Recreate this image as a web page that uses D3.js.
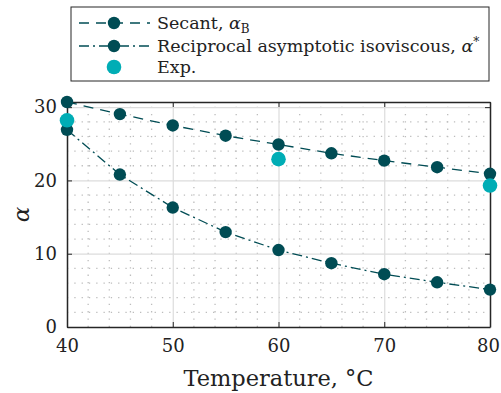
<!DOCTYPE html>
<html>
<head>
<meta charset="utf-8">
<script src="https://cdn.jsdelivr.net/npm/d3@7"></script>
<style>
  body { margin: 0; background: #fff; }
  svg text { fill: #222; }
</style>
</head>
<body>
<div id="chart"></div>
<script>
// temperatures, °C
const temps = [40, 45, 50, 55, 60, 65, 70, 75, 80];
const secant = [30.7, 29.05, 27.5, 26.1, 24.9, 23.7, 22.7, 21.8, 20.9];
const reciprocal = [26.9, 20.8, 16.3, 12.95, 10.5, 8.7, 7.2, 6.1, 5.1];
const expTemps = [40, 60, 80];
const expValues = [28.2, 22.9, 19.3];
const xTicks = [40, 50, 60, 70, 80];
const yTicks = [0, 10, 20, 30];

const fullWidth = 501, fullHeight = 393;
const margin = { top: 102, right: 11, bottom: 66, left: 67 };
const width = fullWidth - margin.left - margin.right;
const height = fullHeight - margin.top - margin.bottom;

const dark = "#004c54", cyan = "#00adb5";
const serif = "DejaVu Serif";

const root = d3.select("#chart").append("svg")
    .attr("width", fullWidth)
    .attr("height", fullHeight)
    .attr("font-family", serif);

const svg = root.append("g")
    .attr("transform", `translate(${margin.left},${margin.top})`);

let x = d3.scaleLinear().domain([40, 80]).range([0, width]);
let y = d3.scaleLinear().domain([0, 30.7]).range([height, 0]);

// minor dotted grid every 2 units
const minorX = d3.range(42, 80, 2).filter(v => v % 10 !== 0);
const minorY = d3.range(2, 30.7, 2).filter(v => v % 10 !== 0);

svg.append("g").selectAll("line")
    .data(minorX).enter().append("line")
    .attr("x1", d => x(d)).attr("x2", d => x(d))
    .attr("y1", height).attr("y2", 0)
    .attr("stroke", "#bdbdbd").attr("stroke-width", 1.3)
    .attr("stroke-dasharray", "1.3,6");

svg.append("g").selectAll("line")
    .data(minorY).enter().append("line")
    .attr("x1", 0).attr("x2", width)
    .attr("y1", d => y(d)).attr("y2", d => y(d))
    .attr("stroke", "#bdbdbd").attr("stroke-width", 1.3)
    .attr("stroke-dasharray", "1.3,6");

// major grid
svg.append("g")
    .attr("transform", `translate(0,${height})`)
    .call(d3.axisBottom(x).tickValues(xTicks).tickSize(-height).tickFormat(""))
    .call(g => g.select(".domain").remove())
    .selectAll("line").attr("stroke", "#dcdcdc").attr("stroke-width", 1.2);

svg.append("g")
    .call(d3.axisLeft(y).tickValues(yTicks).tickSize(-width).tickFormat(""))
    .call(g => g.select(".domain").remove())
    .selectAll("line").attr("stroke", "#dcdcdc").attr("stroke-width", 1.2);

// axes with inward ticks
function styleAxis(g) {
    g.attr("font-family", serif);
    g.select(".domain").attr("stroke", "#262626").attr("stroke-width", 1.5);
    g.selectAll(".tick line").attr("stroke", "#262626").attr("stroke-width", 1);
    g.selectAll("text").attr("font-size", 18).attr("fill", "#222");
}

svg.append("g")
    .attr("transform", `translate(0,${height})`)
    .call(d3.axisBottom(x).tickValues(xTicks).tickSize(-5).tickPadding(12).tickSizeOuter(0))
    .call(styleAxis)
    .selectAll("text").filter(d => d === 80).attr("dx", -2);

svg.append("g")
    .call(d3.axisLeft(y).tickValues(yTicks).tickSize(-5).tickPadding(10).tickSizeOuter(0))
    .call(styleAxis);

svg.append("g")
    .call(d3.axisTop(x).tickValues(xTicks).tickSize(-5).tickFormat("").tickSizeOuter(0))
    .call(styleAxis);

svg.append("g")
    .attr("transform", `translate(${width},0)`)
    .call(d3.axisRight(y).tickValues(yTicks).tickSize(-5).tickFormat("").tickSizeOuter(0))
    .call(styleAxis);

// series lines
const line = d3.line().x(d => x(d[0])).y(d => y(d[1]));

svg.append("path")
    .datum(temps.map((t, i) => [t, secant[i]]))
    .attr("d", line)
    .attr("fill", "none").attr("stroke", dark).attr("stroke-width", 1.3)
    .attr("stroke-dasharray", "10,7");

svg.append("path")
    .datum(temps.map((t, i) => [t, reciprocal[i]]))
    .attr("d", line)
    .attr("fill", "none").attr("stroke", dark).attr("stroke-width", 1.3)
    .attr("stroke-dasharray", "10,4,2,4");

svg.append("g").selectAll("circle")
    .data(temps.map((t, i) => [t, secant[i]]))
    .enter().append("circle")
    .attr("cx", d => x(d[0])).attr("cy", d => y(d[1]))
    .attr("r", 6.2).attr("fill", dark);

svg.append("g").selectAll("circle")
    .data(temps.map((t, i) => [t, reciprocal[i]]))
    .enter().append("circle")
    .attr("cx", d => x(d[0])).attr("cy", d => y(d[1]))
    .attr("r", 6.2).attr("fill", dark);

svg.append("g").selectAll("circle")
    .data(expTemps.map((t, i) => [t, expValues[i]]))
    .enter().append("circle")
    .attr("cx", d => x(d[0])).attr("cy", d => y(d[1]))
    .attr("r", 7.3).attr("fill", cyan);

// axis labels
root.append("text")
    .attr("x", margin.left + width / 2)
    .attr("y", 386)
    .attr("text-anchor", "middle")
    .attr("font-size", 22.5)
    .text("Temperature, °C");

root.append("text")
    .attr("transform", `translate(29,${margin.top + height / 2}) rotate(-90)`)
    .attr("text-anchor", "middle")
    .attr("font-size", 23)
    .attr("font-style", "italic")
    .text("α");

// legend
const legend = root.append("g");
legend.append("rect")
    .attr("x", 71).attr("y", 7)
    .attr("width", 418).attr("height", 74)
    .attr("fill", "#fff").attr("stroke", "#262626").attr("stroke-width", 1);

const legendRows = [
    { y: 23, dash: "10,7", color: dark, r: 6.2, line: true },
    { y: 46, dash: "10,4,2,4", color: dark, r: 6.2, line: true },
    { y: 67, dash: null, color: cyan, r: 7.3, line: false }
];

legendRows.forEach(d => {
    if (d.line) {
        legend.append("line")
            .attr("x1", 79).attr("x2", 150)
            .attr("y1", d.y).attr("y2", d.y)
            .attr("stroke", d.color).attr("stroke-width", 1.3)
            .attr("stroke-dasharray", d.dash);
    }
    legend.append("circle")
        .attr("cx", 114).attr("cy", d.y).attr("r", d.r).attr("fill", d.color);
});

const t1 = legend.append("text").attr("x", 157).attr("y", 29).attr("font-size", 17.5);
t1.append("tspan").text("Secant, ");
t1.append("tspan").attr("font-style", "italic").text("α");
t1.append("tspan").attr("dy", 4).attr("font-size", 12).text("B");

const t2 = legend.append("text").attr("x", 157).attr("y", 52).attr("font-size", 17.5);
t2.append("tspan").text("Reciprocal asymptotic isoviscous, ");
t2.append("tspan").attr("font-style", "italic").text("α");
t2.append("tspan").attr("dy", -6).attr("font-size", 12).text("*");

legend.append("text").attr("x", 157).attr("y", 73).attr("font-size", 17.5).text("Exp.");
</script>
</body>
</html>
